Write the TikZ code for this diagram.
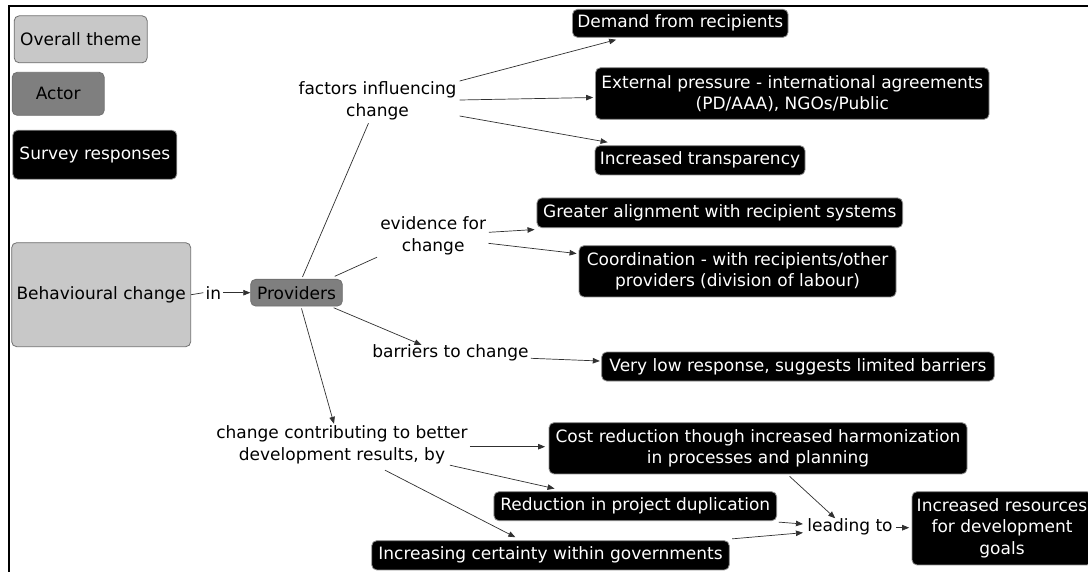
\documentclass[tikz,border=0pt]{standalone}
\usepackage{fontspec}
\setmainfont{DejaVu Sans}
\usetikzlibrary{arrows.meta,calc}
\definecolor{themefill}{HTML}{C8C8C8}
\definecolor{actorfill}{HTML}{7F7F7F}
\definecolor{themeline}{HTML}{707070}
\definecolor{respline}{HTML}{909090}
\definecolor{edgecol}{HTML}{303030}
\begin{document}
\begin{tikzpicture}[x=1pt,y=-1pt,
  every node/.style={font=\fontsize{17}{21.5}\selectfont},
  boxbase/.style={rounded corners=5pt, align=center, inner sep=0pt, line width=0.8pt},
  themebox/.style={boxbase, draw=themeline, fill=themefill, text=black},
  actorbox/.style={boxbase, draw=themeline, fill=actorfill, text=black},
  respbox/.style={boxbase, draw=respline, fill=black, text=white},
  linkph/.style={align=center, inner sep=0pt, text=black},
  conn/.style={draw=edgecol, line width=0.7pt},
  arr/.style={conn, -{Triangle[length=7pt,width=5.5pt]}},
]
\useasboundingbox (0,0) rectangle (1088,571);
\clip (0,0) rectangle (1088,571);
\fill[white] (0,0) rectangle (1088,571);
% frame
\draw[line width=2.5pt] (9,590) -- (9,6) -- (1100,6);

% legend
\node[themebox, minimum width=133pt, minimum height=47pt] (lgtheme) at (80.7,39.3) {Overall theme};
\node[actorbox, minimum width=92pt, minimum height=43pt] (lgactor) at (58.2,93.8) {Actor};
\node[respbox, minimum width=164pt, minimum height=49pt] (lgresp) at (94.8,154.7) {Survey responses};

% main concepts
\node[themebox, minimum width=179pt, minimum height=104pt] (behav) at (101.2,294.7) {Behavioural change};
\node[linkph, inner xsep=2pt] (in) at (213.3,292.7) {in};
\node[actorbox, minimum width=91.6pt, minimum height=26.7pt] (prov) at (296.5,292.7) {Providers};

% linking phrases
\node[linkph] (fac) at (377.5,101) {factors influencing\\change};
\node[linkph] (evid) at (433.2,236) {evidence for\\change};
\node[linkph] (barr) at (450.5,353.3) {barriers to change};
\node[linkph] (contrib) at (342,445) {change contributing to better\\development results, by};
\node[linkph] (lead) at (850,526.7) {leading to};

% responses
\node[respbox, minimum width=215.5pt, minimum height=28pt] (demand) at (680.3,23.3) {Demand from recipients};
\node[respbox, minimum width=393.5pt, minimum height=51.6pt] (ext) at (792.3,93.5) {External pressure - international agreements\\(PD/AAA), NGOs/Public};
\node[respbox, minimum width=210pt, minimum height=29.3pt] (trans) at (700,160.3) {Increased transparency};
\node[respbox, minimum width=365.7pt, minimum height=29.7pt] (greater) at (719.8,212.8) {Greater alignment with recipient systems};
\node[respbox, minimum width=317pt, minimum height=51.3pt] (coord) at (737.5,271.3) {Coordination - with recipients/other\\providers (division of labour)};
\node[respbox, minimum width=392.6pt, minimum height=29pt] (vlow) at (798,366.5) {Very low response, suggests limited barriers};
\node[respbox, minimum width=418pt, minimum height=51.3pt] (cost) at (758,448.3) {Cost reduction though increased harmonization\\in processes and planning};
\node[respbox, minimum width=282.7pt, minimum height=29pt] (reduc) at (635.3,506.2) {Reduction in project duplication};
\node[respbox, minimum width=357.5pt, minimum height=29.3pt] (incr) at (550.5,555.3) {Increasing certainty within governments};
\node[respbox, minimum width=180pt, minimum height=73.3pt] (res) at (1002,528.3) {Increased resources\\for development\\goals};

% connectors
\draw[conn] (behav.east) -- (in.west);
\draw[arr] (in.east) -- (prov.west);
\draw[conn] ($(prov.north)+(6,-2)$) -- ($(fac.south)+(-9,3)$);
\draw[conn] ($(prov.north east)+(-8,-2.6)$) -- ($(evid.south west)+(-3,2)$);
\draw[arr] ($(prov.south east)+(-9,1.3)$) -- ($(barr.north)+(-29,0)$);
\draw[arr] ($(prov.south)+(5,2)$) -- ($(contrib.north)+(-8,-2)$);

\draw[arr] ($(fac.east)+(3,-20)$) -- ($(demand.south west)+(44,2)$);
\draw[arr] ($(fac.east)+(3,-1)$) -- ($(ext.west)+(-2,4)$);
\draw[arr] ($(fac.east)+(3,15)$) -- ($(trans.north west)+(13,-3)$);

\draw[arr] ($(evid.east)+(2.5,-3.7)$) -- ($(greater.south west)+(-2,1.5)$);
\draw[arr] ($(evid.east)+(2,7.3)$) -- ($(coord.north west)+(-2,8.3)$);

\draw[arr] ($(barr.east)+(2,5)$) -- ($(vlow.west)+(-1.5,-5.5)$);

\draw[arr] ($(contrib.east)+(2,1.7)$) -- ($(cost.west)+(-3.5,-1.6)$);
\draw[arr] ($(contrib.south east)+(-18,1)$) -- ($(reduc.north west)+(61,-2.7)$);
\draw[arr] ($(contrib.south)+(43,6)$) -- ($(incr.north west)+(144,-3)$);

\draw[arr] ($(cost.south west)+(241,2)$) -- ($(lead.north west)+(28,0)$);
\draw[arr] ($(reduc.south east)+(1.6,1)$) -- ($(lead.west)+(-4.3,-2.7)$);
\draw[arr] ($(incr.north east)+(2.4,-1.4)$) -- ($(lead.west)+(-4.3,6)$);
\draw[arr] ($(lead.east)+(3,1)$) -- ($(res.west)+(-2.4,-0.6)$);
\end{tikzpicture}
\end{document}
